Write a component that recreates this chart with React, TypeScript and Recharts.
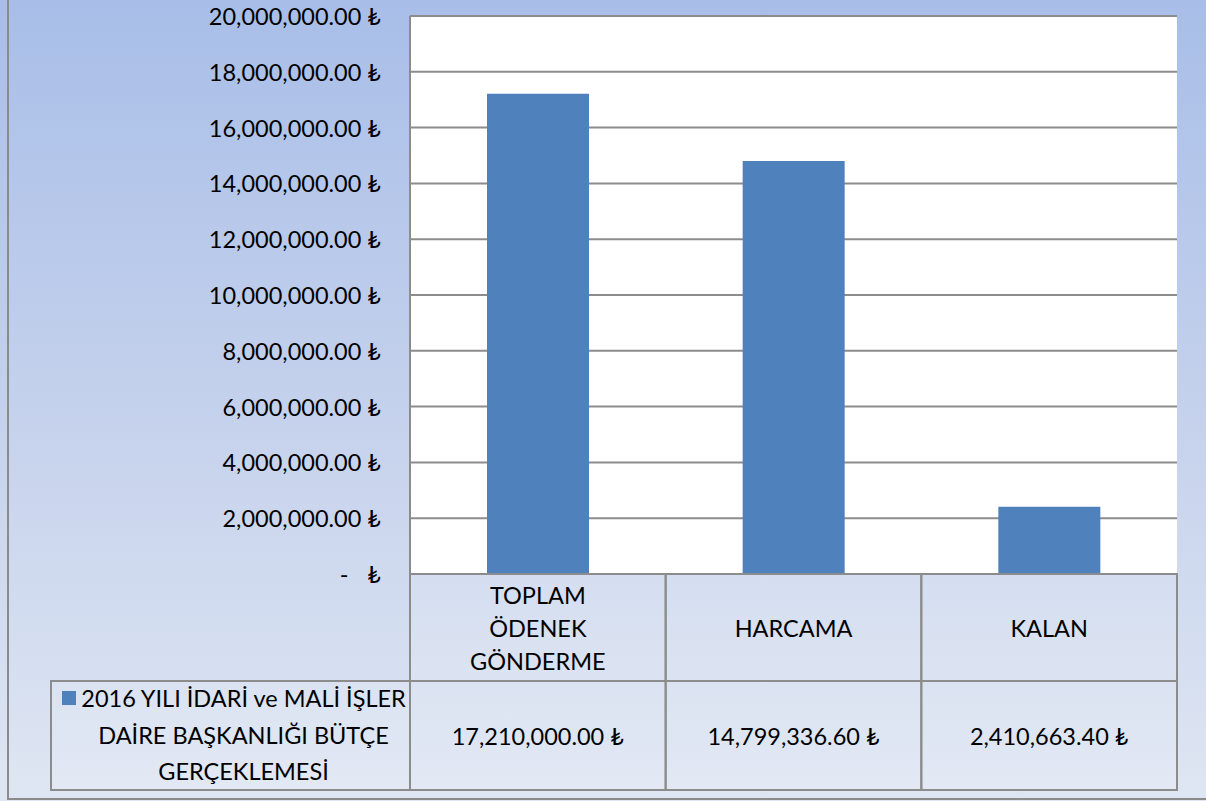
import { Bar, BarChart, CartesianGrid, Legend, XAxis, YAxis } from "recharts";

// kategori ve değerler
const categories = ["TOPLAM ÖDENEK GÖNDERME", "HARCAMA", "KALAN"];
const values = [17210000, 14799336.6, 2410663.4];
const seriesName = "2016 YILI İDARİ ve MALİ İŞLER DAİRE BAŞKANLIĞI BÜTÇE GERÇEKLEMESİ";
const legendLines = ["2016 YILI İDARİ ve MALİ İŞLER", "DAİRE BAŞKANLIĞI BÜTÇE", "GERÇEKLEMESİ"];
const yTicks = [0, 2000000, 4000000, 6000000, 8000000, 10000000, 12000000, 14000000, 16000000, 18000000, 20000000];

const data = categories.map((name, i) => ({ name, value: values[i] }));

const FONT = "Lato, 'DejaVu Sans', sans-serif";
const FS = 23.5;
const GRID = "#8c8c8c";
const BAR = "#4f81bd";

const money = (v: number) =>
  v.toLocaleString("en-US", { minimumFractionDigits: 2, maximumFractionDigits: 2 }) + " ₺";

// Y ekseni etiketleri
function YTick(props: any) {
  const { x, y, payload } = props;
  if (payload.value === 0) {
    return (
      <g>
        <text x={x - 66} y={y} textAnchor="middle" dominantBaseline="central" fontSize={FS} fill="#000" fontFamily={FONT}>-</text>
        <text x={x - 29} y={y} textAnchor="end" dominantBaseline="central" fontSize={FS} fill="#000" fontFamily={FONT}>₺</text>
      </g>
    );
  }
  return (
    <text x={x - 29} y={y} textAnchor="end" dominantBaseline="central" fontSize={FS} fill="#000" fontFamily={FONT}>
      {money(payload.value)}
    </text>
  );
}

// X ekseni = veri tablosu (başlık + değer satırı)
function TableTick(props: any) {
  const { x, y, payload, width } = props;
  const band = width / categories.length;
  const left = x - band / 2;
  const headH = 107;
  const valH = 109;
  const words = String(payload.value).split(" ");
  const mid = y + headH / 2;
  return (
    <g fontFamily={FONT} fontSize={FS} fill="#000">
      <rect x={left} y={y} width={band} height={headH} fill="rgba(255,255,255,0.12)" stroke={GRID} strokeWidth={2} />
      <rect x={left} y={y + headH} width={band} height={valH} fill="rgba(255,255,255,0.12)" stroke={GRID} strokeWidth={2} />
      {words.map((w, i) => (
        <text key={i} x={x} y={mid + (i - (words.length - 1) / 2) * 33} textAnchor="middle" dominantBaseline="central">
          {w}
        </text>
      ))}
      <text x={x} y={y + headH + valH / 2} textAnchor="middle" dominantBaseline="central">
        {money(values[payload.index])}
      </text>
    </g>
  );
}

// tablonun sol hücresi: lejant anahtarı + seri adı
function LegendCell() {
  return (
    <div
      style={{
        position: "relative",
        boxSizing: "border-box",
        width: 361,
        height: 111,
        border: `2px solid ${GRID}`,
        background: "rgba(255,255,255,0.12)",
        fontFamily: FONT,
        fontSize: FS,
        color: "#000",
      }}
    >
      <span style={{ position: "absolute", left: 10, top: 9, width: 14, height: 14, background: BAR }} />
      <div
        style={{
          position: "absolute",
          left: 26,
          right: 0,
          top: -2,
          display: "flex",
          flexDirection: "column",
          alignItems: "center",
          lineHeight: "36.5px",
        }}
      >
        {legendLines.map((l, i) => (
          <div key={i} style={{ whiteSpace: "nowrap" }}>
            {l}
          </div>
        ))}
      </div>
    </div>
  );
}

export default function App() {
  return (
    <div
      style={{
        position: "absolute",
        left: 0,
        top: 0,
        width: 1206,
        height: 801,
        overflow: "hidden",
        background: "linear-gradient(to bottom, #a8bee8 0%, #c4d1ec 50%, #dfe6f3 100%)",
        fontFamily: FONT,
      }}
    >
      <div
        style={{
          position: "absolute",
          left: 7,
          top: -4,
          width: 1206,
          height: 804,
          border: "2px solid #8b8b8b",
          boxSizing: "border-box",
        }}
      />
      <BarChart
        width={1206}
        height={801}
        data={data}
        margin={{ top: 16, right: 29, bottom: 11, left: 0 }}
      >
        <CartesianGrid vertical={false} stroke={GRID} strokeWidth={2} fill="#ffffff" fillOpacity={1} />
        <XAxis
          dataKey="name"
          height={216}
          interval={0}
          tickLine={false}
          tickSize={0}
          tickMargin={0}
          axisLine={{ stroke: GRID, strokeWidth: 2 }}
          tick={<TableTick />}
        />
        <YAxis
          width={410}
          domain={[0, 20000000]}
          ticks={yTicks}
          tickLine={false}
          tickSize={0}
          tickMargin={0}
          axisLine={{ stroke: GRID, strokeWidth: 2 }}
          tick={<YTick />}
        />
        <Legend
          layout="horizontal"
          verticalAlign="middle"
          align="center"
          content={() => <LegendCell />}
          wrapperStyle={{ position: "absolute", left: 50, top: 680, width: 361, height: 111 }}
        />
        <Bar dataKey="value" name={seriesName} fill={BAR} barSize={102} isAnimationActive={false} />
      </BarChart>
    </div>
  );
}
